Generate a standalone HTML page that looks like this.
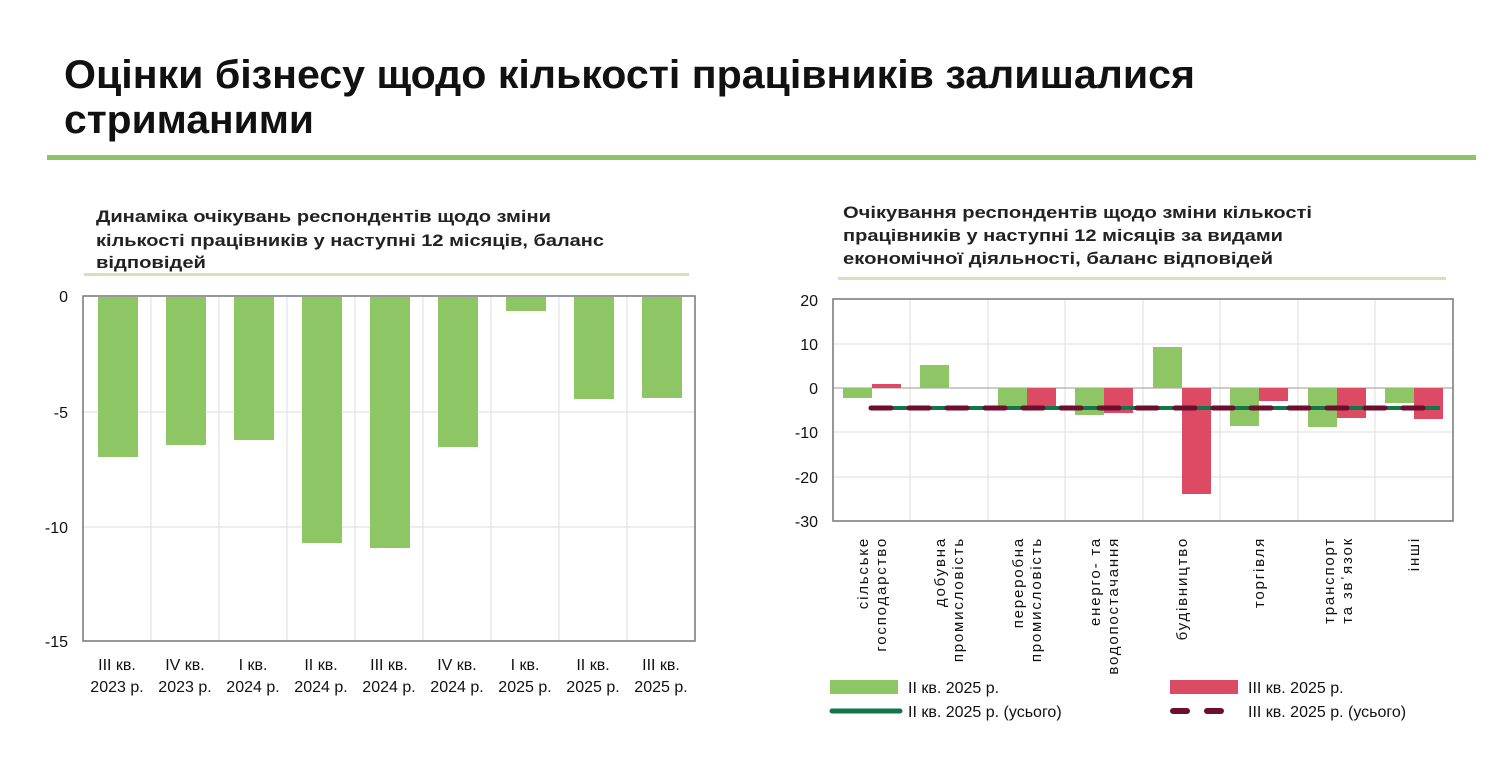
<!DOCTYPE html>
<html><head><meta charset="utf-8"><style>
html,body{margin:0;padding:0;background:#fff;}
svg{display:block;font-family:"Liberation Sans",sans-serif;}
</style></head><body>
<svg width="1500" height="762" viewBox="0 0 1500 762" xmlns="http://www.w3.org/2000/svg">
<rect width="1500" height="762" fill="#fff"/>
<text x="64" y="88" font-size="40" font-weight="bold" fill="#111" textLength="1131" lengthAdjust="spacingAndGlyphs">Оцінки бізнесу щодо кількості працівників залишалися</text>
<text x="64" y="133" font-size="40" font-weight="bold" fill="#111" textLength="250" lengthAdjust="spacingAndGlyphs">стриманими</text>
<rect x="47" y="155" width="1429" height="5" fill="#8dc46a"/>

<g font-size="17" font-weight="bold" fill="#222">
<text x="96" y="222" textLength="455" lengthAdjust="spacingAndGlyphs">Динаміка очікувань респондентів щодо зміни</text>
<text x="96" y="246" textLength="508" lengthAdjust="spacingAndGlyphs">кількості працівників у наступні 12 місяців, баланс</text>
<text x="96" y="268" textLength="110" lengthAdjust="spacingAndGlyphs">відповідей</text>
</g>
<rect x="84" y="273" width="605" height="3" fill="#cfe3bf"/>

<g stroke="#ddd" stroke-width="1">
<line x1="83" y1="412" x2="695" y2="412"/>
<line x1="83" y1="527" x2="695" y2="527"/>
<line x1="151" y1="296" x2="151" y2="641"/>
<line x1="219" y1="296" x2="219" y2="641"/>
<line x1="287" y1="296" x2="287" y2="641"/>
<line x1="355" y1="296" x2="355" y2="641"/>
<line x1="423" y1="296" x2="423" y2="641"/>
<line x1="491" y1="296" x2="491" y2="641"/>
<line x1="559" y1="296" x2="559" y2="641"/>
<line x1="627" y1="296" x2="627" y2="641"/>
</g>
<g fill="#8ec665">
<rect x="98" y="297" width="40" height="160"/>
<rect x="166" y="297" width="40" height="148"/>
<rect x="234" y="297" width="40" height="143"/>
<rect x="302" y="297" width="40" height="246"/>
<rect x="370" y="297" width="40" height="251"/>
<rect x="438" y="297" width="40" height="150"/>
<rect x="506" y="297" width="40" height="14"/>
<rect x="574" y="297" width="40" height="102"/>
<rect x="642" y="297" width="40" height="101"/>
</g>
<rect x="83" y="296" width="612" height="345" fill="none" stroke="#777" stroke-width="1.5"/>
<g font-size="16" fill="#111" text-anchor="end">
<text x="68" y="302">0</text>
<text x="68" y="418">-5</text>
<text x="68" y="533">-10</text>
<text x="68" y="647">-15</text>
</g>
<g font-size="16" fill="#111" text-anchor="middle">
<text x="117" y="670">III кв.</text><text x="117" y="692">2023 р.</text>
<text x="185" y="670">IV кв.</text><text x="185" y="692">2023 р.</text>
<text x="253" y="670">I кв.</text><text x="253" y="692">2024 р.</text>
<text x="321" y="670">II кв.</text><text x="321" y="692">2024 р.</text>
<text x="389" y="670">III кв.</text><text x="389" y="692">2024 р.</text>
<text x="457" y="670">IV кв.</text><text x="457" y="692">2024 р.</text>
<text x="525" y="670">I кв.</text><text x="525" y="692">2025 р.</text>
<text x="593" y="670">II кв.</text><text x="593" y="692">2025 р.</text>
<text x="661" y="670">III кв.</text><text x="661" y="692">2025 р.</text>
</g>

<g font-size="17" font-weight="bold" fill="#222">
<text x="843" y="218" textLength="469" lengthAdjust="spacingAndGlyphs">Очікування респондентів щодо зміни кількості</text>
<text x="843" y="241" textLength="440" lengthAdjust="spacingAndGlyphs">працівників у наступні 12 місяців за видами</text>
<text x="843" y="264" textLength="430" lengthAdjust="spacingAndGlyphs">економічної діяльності, баланс відповідей</text>
</g>
<rect x="838" y="277" width="608" height="3" fill="#cfe3bf"/>

<g stroke="#ddd" stroke-width="1">
<line x1="833" y1="344" x2="1453" y2="344"/>
<line x1="833" y1="432" x2="1453" y2="432"/>
<line x1="833" y1="477" x2="1453" y2="477"/>
<line x1="910" y1="299" x2="910" y2="521"/>
<line x1="988" y1="299" x2="988" y2="521"/>
<line x1="1065" y1="299" x2="1065" y2="521"/>
<line x1="1143" y1="299" x2="1143" y2="521"/>
<line x1="1220" y1="299" x2="1220" y2="521"/>
<line x1="1298" y1="299" x2="1298" y2="521"/>
<line x1="1375" y1="299" x2="1375" y2="521"/>
</g>
<line x1="833" y1="388" x2="1453" y2="388" stroke="#bbb" stroke-width="1.5"/>
<g fill="#8ec665">
<rect x="843" y="388" width="29" height="10"/>
<rect x="920" y="365" width="29" height="23"/>
<rect x="998" y="388" width="29" height="18"/>
<rect x="1075" y="388" width="29" height="27"/>
<rect x="1153" y="347" width="29" height="41"/>
<rect x="1230" y="388" width="29" height="38"/>
<rect x="1308" y="388" width="29" height="39"/>
<rect x="1385" y="388" width="29" height="15"/>
</g>
<g fill="#dc4a64">
<rect x="872" y="384" width="29" height="4"/>
<rect x="1027" y="388" width="29" height="18"/>
<rect x="1104" y="388" width="29" height="25"/>
<rect x="1182" y="388" width="29" height="106"/>
<rect x="1259" y="388" width="29" height="13"/>
<rect x="1337" y="388" width="29" height="30"/>
<rect x="1414" y="388" width="29" height="31"/>
</g>
<line x1="870" y1="408" x2="1440" y2="408" stroke="#12764a" stroke-width="4"/>
<line x1="871" y1="408" x2="1440" y2="408" stroke="#6e0e2e" stroke-width="5" stroke-dasharray="20 18" stroke-linecap="round"/>
<rect x="833" y="299" width="620" height="222" fill="none" stroke="#777" stroke-width="1.5"/>
<g font-size="16" fill="#111" text-anchor="end">
<text x="818" y="306">20</text>
<text x="818" y="350">10</text>
<text x="818" y="394">0</text>
<text x="818" y="438">-10</text>
<text x="818" y="483">-20</text>
<text x="818" y="527">-30</text>
</g>
<g font-size="15" fill="#111" text-anchor="end" letter-spacing="1.8">
<text transform="translate(868,537) rotate(-90)">сільське</text>
<text transform="translate(886,537) rotate(-90)">господарство</text>
<text transform="translate(945,537) rotate(-90)">добувна</text>
<text transform="translate(963,537) rotate(-90)">промисловість</text>
<text transform="translate(1023,537) rotate(-90)">переробна</text>
<text transform="translate(1041,537) rotate(-90)">промисловість</text>
<text transform="translate(1100,537) rotate(-90)">енерго- та</text>
<text transform="translate(1118,537) rotate(-90)">водопостачання</text>
<text transform="translate(1187,537) rotate(-90)">будівництво</text>
<text transform="translate(1264,537) rotate(-90)">торгівля</text>
<text transform="translate(1334,537) rotate(-90)">транспорт</text>
<text transform="translate(1352,537) rotate(-90)">та зв᾽язок</text>
<text transform="translate(1419,537) rotate(-90)">інші</text>
</g>
<rect x="830" y="680" width="68" height="14" fill="#8ec665"/>
<text x="908" y="693" font-size="16" fill="#111">II кв. 2025 р.</text>
<rect x="1170" y="680" width="68" height="14" fill="#dc4a64"/>
<text x="1248" y="693" font-size="16" fill="#111">III кв. 2025 р.</text>
<line x1="832" y1="711" x2="900" y2="711" stroke="#12764a" stroke-width="5" stroke-linecap="round"/>
<text x="908" y="717" font-size="16" fill="#111">II кв. 2025 р. (усього)</text>
<line x1="1173" y1="711" x2="1238" y2="711" stroke="#6e0e2e" stroke-width="6" stroke-dasharray="14 20" stroke-linecap="round"/>
<text x="1248" y="717" font-size="16" fill="#111">III кв. 2025 р. (усього)</text>
</svg>
</body></html>
